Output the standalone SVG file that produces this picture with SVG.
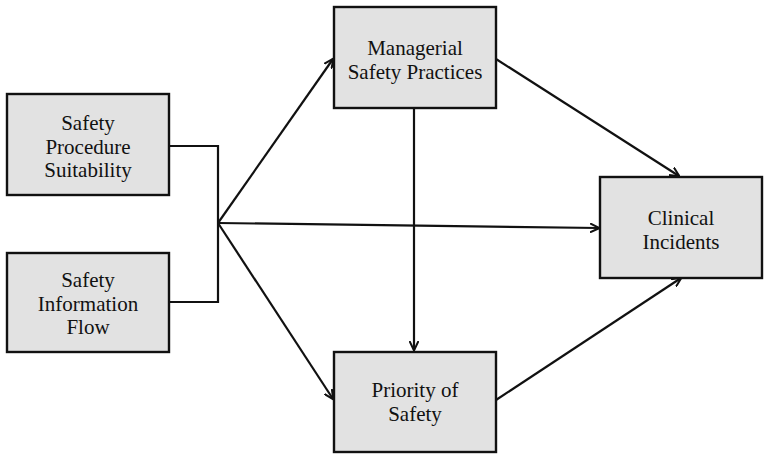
<svg xmlns="http://www.w3.org/2000/svg" width="765" height="455" viewBox="0 0 765 455">
<style>
.box{fill:#e2e2e2;stroke:#111;stroke-width:2.4}
.t{font-family:"Liberation Serif","Times New Roman",serif;font-size:21px;fill:#111;text-anchor:middle}
.c{fill:none;stroke:#111;stroke-width:2.2}
</style>
<defs>
<marker id="ah" viewBox="0 0 10 10" refX="9" refY="5" markerWidth="10" markerHeight="10" markerUnits="userSpaceOnUse" orient="auto">
<path d="M0,0.5 L9.5,5 L0,9.5" fill="none" stroke="#111" stroke-width="2"/>
</marker>
</defs>
<rect width="765" height="455" fill="#fff"/>
<g id="connectors">
<polyline class="c" points="169,146 218,146 218,302 169,302"/>
<line class="c" x1="218" y1="223" x2="333" y2="59" marker-end="url(#ah)"/>
<line class="c" x1="218" y1="223" x2="599" y2="228" marker-end="url(#ah)"/>
<line class="c" x1="218" y1="223" x2="333" y2="399" marker-end="url(#ah)"/>
<line class="c" x1="496" y1="59" x2="679" y2="176" marker-end="url(#ah)"/>
<line class="c" x1="496" y1="400" x2="681" y2="278" marker-end="url(#ah)"/>
<line class="c" x1="414" y1="108" x2="414" y2="350" marker-end="url(#ah)"/>
</g>
<g id="safety-procedure-suitability">
<rect class="box" x="7" y="94" width="162" height="101"/>
<text class="t" x="88" y="130">Safety</text>
<text class="t" x="88" y="153.5">Procedure</text>
<text class="t" x="88" y="177">Suitability</text>
</g>
<g id="safety-information-flow">
<rect class="box" x="7" y="253" width="162" height="99"/>
<text class="t" x="88" y="287">Safety</text>
<text class="t" x="88" y="310.5">Information</text>
<text class="t" x="88" y="334">Flow</text>
</g>
<g id="managerial-safety-practices">
<rect class="box" x="334" y="7" width="162" height="101"/>
<text class="t" x="415" y="55">Managerial</text>
<text class="t" x="415" y="78.5">Safety Practices</text>
</g>
<g id="priority-of-safety">
<rect class="box" x="334" y="352" width="162" height="100"/>
<text class="t" x="415" y="397">Priority of</text>
<text class="t" x="415" y="420.5">Safety</text>
</g>
<g id="clinical-incidents">
<rect class="box" x="600" y="177" width="162" height="101"/>
<text class="t" x="681" y="225">Clinical</text>
<text class="t" x="681" y="248.5">Incidents</text>
</g>
</svg>
